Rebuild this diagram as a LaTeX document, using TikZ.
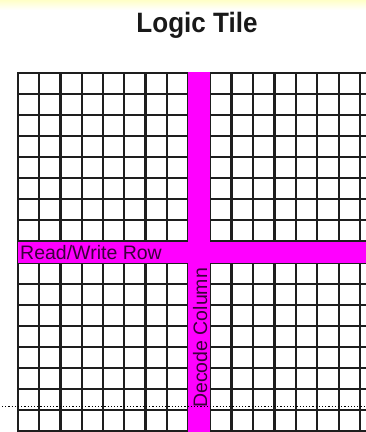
\documentclass[tikz,border=0pt]{standalone}
\usepackage{fontspec}
\setmainfont{Liberation Sans}
\definecolor{band}{HTML}{FF00FF}
\definecolor{bandtext}{HTML}{3A003A}
\definecolor{gridc}{HTML}{1E1E1E}
\begin{document}
\begin{tikzpicture}[x=1pt,y=-1pt,
  gridline/.style={line width=2.3pt, gridc},
  bandfill/.style={fill=band, draw=none},
  bandlabel/.style={inner sep=0pt, text=bandtext, font=\fontsize{19.5}{19.5}\selectfont}]
\useasboundingbox (0,0) rectangle (366,432);
\fill[white] (0,0) rectangle (366,432);
\shade[top color=yellow!22, bottom color=white] (0,0) rectangle (366,10);
% title
\node[anchor=base, inner sep=0pt, xscale=0.93, font=\bfseries\fontsize{28}{28}\selectfont, text=black!90] (title) at (197,32) {Logic Tile};
% grid
\begin{scope}
\clip (17,72) rectangle (366,432);
\foreach \i in {0,...,8} {
  \draw[gridline] ({18+21.25*\i},72) -- ({18+21.25*\i},432);
}
\foreach \k in {0,...,7} {
  \draw[gridline] ({210+21.45*\k},72) -- ({210+21.45*\k},432);
}
\foreach \j in {0,...,8} {
  \draw[gridline] (17,{73+21*\j}) -- (366,{73+21*\j});
  \draw[gridline] (17,{263+21*\j}) -- (366,{263+21*\j});
}
\end{scope}
% bands
\fill[bandfill] (188,72) rectangle (210,432);
\fill[bandfill] (18,242) rectangle (366,263);
\node[bandlabel, anchor=base west] (rw) at (20,259.5) {Read/Write Row};
\node[bandlabel, anchor=base west, rotate=90] (dc) at (207,408) {Decode Column};
% dotted line
\coordinate (dl) at (2,406);
\coordinate (dr) at (366,406);
\draw[line width=1pt, dash pattern=on 1.2pt off 2pt, black] (dl) -- (dr);
\end{tikzpicture}
\end{document}
